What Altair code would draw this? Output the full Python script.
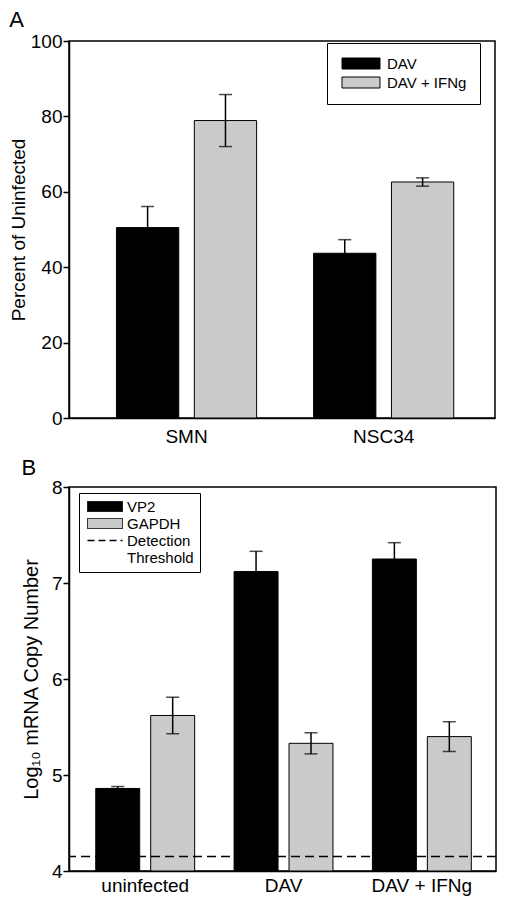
import altair as alt
import pandas as pd

FONT = "Liberation Sans"

# ---------------- Panel A data ----------------
cells = ["SMN", "NSC34"]
treatments = ["DAV", "DAV + IFNg"]
pct_dav = [50.5, 43.7]
pct_dav_err = [5.6, 3.6]
pct_ifn = [78.9, 62.6]
pct_ifn_err = [6.9, 1.1]
a_ticks = [0, 20, 40, 60, 80, 100]

# ---------------- Panel B data ----------------
conditions = ["uninfected", "DAV", "DAV + IFNg"]
genes = ["VP2", "GAPDH"]
vp2 = [4.86, 7.12, 7.25]
vp2_err = [0.02, 0.21, 0.17]
gapdh = [5.62, 5.33, 5.40]
gapdh_err = [0.19, 0.11, 0.155]
threshold = [4.15]
b_ticks = [4, 5, 6, 7, 8]
b_legend = ["VP2", "GAPDH", "Detection Threshold"]

rowsA = []
for i, c in enumerate(cells):
    rowsA.append(dict(cell=c, treatment=treatments[0], value=pct_dav[i], err=pct_dav_err[i]))
    rowsA.append(dict(cell=c, treatment=treatments[1], value=pct_ifn[i], err=pct_ifn_err[i]))
dfA = pd.DataFrame(rowsA)
dfA["lo"] = dfA["value"] - dfA["err"]
dfA["hi"] = dfA["value"] + dfA["err"]

rowsB = []
for i, c in enumerate(conditions):
    rowsB.append(dict(cond=c, gene=genes[0], value=vp2[i], err=vp2_err[i]))
    rowsB.append(dict(cond=c, gene=genes[1], value=gapdh[i], err=gapdh_err[i]))
dfB = pd.DataFrame(rowsB)
dfB["lo"] = dfB["value"] - dfB["err"]
dfB["hi"] = dfB["value"] + dfB["err"]

dfT = pd.DataFrame({"t": threshold})

BLACK = "#000000"
GREY = "#cbcbcb"

# ---------------- Panel A ----------------
titleA = "Percent of Uninfected"
xA = alt.X("cell:N", sort=cells,
           scale=alt.Scale(paddingInner=0.289, paddingOuter=0.225, align=0.535),
           axis=alt.Axis(title=None, ticks=False, labelAngle=0, labelFontSize=19, labelPadding=9))
offA = alt.XOffset("treatment:N", sort=treatments,
                   scale=alt.Scale(paddingInner=0.2, paddingOuter=0))
yscA = alt.Scale(domain=[0, 100], nice=False)
yaxA = alt.Axis(values=a_ticks, format="d", labelFontSize=19, tickSize=6, labelPadding=1,
                titleFontSize=19, titlePadding=2)

legA = alt.Legend(
    title=None, orient="none", legendX=258, legendY=2, padding=13,
    strokeColor="black", fillColor="white",
    labelFont=FONT, labelFontSize=15, labelColor="black",
    symbolType="M-1,-1L5.909,-1L5.909,1L-1,1Z", symbolSize=121,
    symbolStrokeColor="black", symbolStrokeWidth=1,
    labelOffset=32, rowPadding=3, symbolOpacity=1,
)

baseA = alt.Chart(dfA).encode(x=xA, xOffset=offA)
barsA = baseA.mark_bar(stroke="black", strokeWidth=1).encode(
    y=alt.Y("value:Q", scale=yscA, axis=yaxA, title=titleA),
    color=alt.Color("treatment:N", scale=alt.Scale(domain=treatments, range=[BLACK, GREY]), legend=legA),
)
errA = baseA.mark_rule(color="black", strokeWidth=1.5).encode(
    y=alt.Y("lo:Q", scale=yscA, title=titleA), y2="hi:Q")
capLoA = baseA.mark_tick(color="black", size=13, thickness=1.5, orient="horizontal").encode(
    y=alt.Y("lo:Q", scale=yscA, title=titleA))
capHiA = baseA.mark_tick(color="black", size=13, thickness=1.5, orient="horizontal").encode(
    y=alt.Y("hi:Q", scale=yscA, title=titleA))

chartA = alt.layer(barsA, errA, capLoA, capHiA).properties(
    width=426, height=377,
    title=alt.TitleParams("A", anchor="start", frame="bounds", fontSize=22, fontWeight="normal",
                          font=FONT, color="black", offset=0, dx=0),
)

# ---------------- Panel B ----------------
titleB = "Log₁₀ mRNA Copy Number"
xB = alt.X("cond:N", sort=conditions,
           scale=alt.Scale(paddingInner=0.285, paddingOuter=0.186, align=0.52),
           axis=alt.Axis(title=None, ticks=False, labelAngle=0, labelFontSize=19, labelPadding=5))
offB = alt.XOffset("gene:N", sort=genes,
                   scale=alt.Scale(paddingInner=0.2, paddingOuter=0))
yscB = alt.Scale(domain=[4, 8], nice=False, zero=False)
yaxB = alt.Axis(values=b_ticks, format="d", labelFontSize=19, tickSize=6, labelPadding=1,
                titleFontSize=20, titlePadding=10)

cond_thr = "datum.value === 'Detection Threshold'"
legB = alt.Legend(
    title=None, orient="none", legendX=10, legendY=6, padding=6,
    strokeColor="black", fillColor="white",
    labelFont=FONT, labelFontSize=15, labelColor="black",
    symbolType=alt.ExprRef(expr=f"{cond_thr} ? 'M-1,0L6,0' : 'M-1,-1L6,-1L6,1L-1,1Z'"),
    symbolDash=alt.ExprRef(expr=f"{cond_thr} ? [7, 4] : [1, 0]"),
    symbolStrokeWidth=alt.ExprRef(expr=f"{cond_thr} ? 1.5 : 1"),
    symbolStrokeColor="black",
    symbolSize=100,
    labelOffset=27, rowPadding=1, symbolOpacity=1,
    labelExpr="datum.label == 'Detection Threshold' ? ['Detection', 'Threshold'] : datum.label",
)

baseB = alt.Chart(dfB).encode(x=xB, xOffset=offB)
barsB = baseB.mark_bar(stroke="black", strokeWidth=1).encode(
    y=alt.Y("value:Q", scale=yscB, axis=yaxB, title=titleB),
    y2=alt.datum(4),
    color=alt.Color("gene:N", scale=alt.Scale(domain=b_legend, range=[BLACK, GREY, "white"]), legend=legB),
)
errB = baseB.mark_rule(color="black", strokeWidth=1.5).encode(
    y=alt.Y("lo:Q", scale=yscB, title=titleB), y2="hi:Q")
capLoB = baseB.mark_tick(color="black", size=13, thickness=1.5, orient="horizontal").encode(
    y=alt.Y("lo:Q", scale=yscB, title=titleB))
capHiB = baseB.mark_tick(color="black", size=13, thickness=1.5, orient="horizontal").encode(
    y=alt.Y("hi:Q", scale=yscB, title=titleB))
thrB = alt.Chart(dfT).mark_rule(color="black", strokeWidth=1.5, strokeDash=[9, 5]).encode(
    y=alt.Y("t:Q", scale=yscB, title=titleB))

chartB = alt.layer(barsB, errB, capLoB, capHiB, thrB).properties(
    width=427, height=384,
    title=alt.TitleParams("B", anchor="start", frame="bounds", fontSize=22, fontWeight="normal",
                          font=FONT, color="black", offset=-2, dx=0),
)

chart = alt.vconcat(chartA, chartB, spacing=9).resolve_scale(
    color="independent", x="independent", y="independent", xOffset="independent"
).properties(
    padding={"left": 0, "top": 0, "right": 0, "bottom": 0},
    background="white",
).configure_view(
    stroke="black", strokeWidth=1.5
).configure_axis(
    grid=False, domainColor="black", domainWidth=1.5, tickColor="black", tickWidth=1.5,
    labelColor="black", titleColor="black", labelFont=FONT, titleFont=FONT,
    titleFontWeight="normal",
)

chart.save("out.html", embed_options={"renderer": "svg", "actions": False})
